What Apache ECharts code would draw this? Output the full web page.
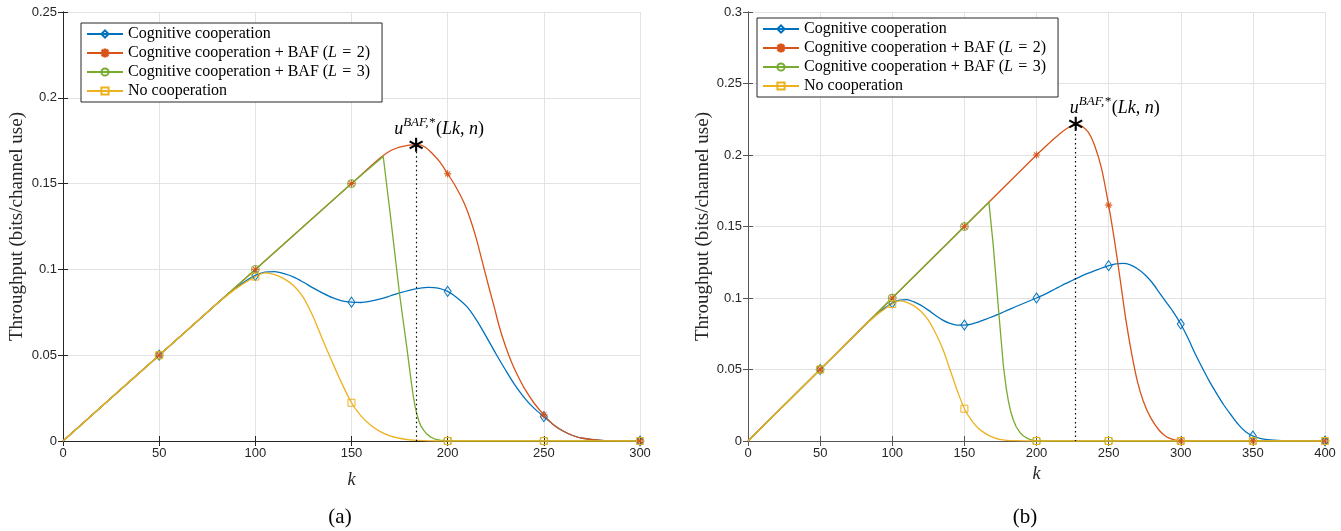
<!DOCTYPE html>
<html>
<head>
<meta charset="utf-8">
<script src="https://cdn.jsdelivr.net/npm/echarts@6/dist/echarts.min.js"></script>
<style>
html,body{margin:0;padding:0;background:#fff;}
#c{width:1341px;height:531px;}
</style>
</head>
<body>
<div id="c"></div>
<script>
// ---------- DATA ----------
const SERIES_NAMES = [
  'Cognitive cooperation',
  'Cognitive cooperation + BAF (L = 2)',
  'Cognitive cooperation + BAF (L = 3)',
  'No cooperation'
];
const X_TICKS_A = [0, 50, 100, 150, 200, 250, 300];
const Y_TICKS_A = [0, 0.05, 0.1, 0.15, 0.2, 0.25];
const X_TICKS_B = [0, 50, 100, 150, 200, 250, 300, 350, 400];
const Y_TICKS_B = [0, 0.05, 0.1, 0.15, 0.2, 0.25, 0.3];

// Panel (a)
const blueA = [[0,0],[50,0.05],[80,0.08],[85,0.0848],[90,0.0893],[95,0.0932],[100,0.0965],[105,0.0984],[110,0.0987],[115,0.0975],[120,0.0955],[125,0.0925],[130,0.0892],[135,0.0862],[140,0.0835],[145,0.0817],[150,0.0809],[155,0.0807],[160,0.0815],[165,0.0828],[170,0.0845],[175,0.0863],[180,0.0878],[185,0.0889],[190,0.0895],[195,0.0891],[200,0.0872],[205,0.0834],[210,0.0783],[215,0.0705],[220,0.061],[225,0.051],[230,0.0415],[235,0.0325],[240,0.025],[245,0.019],[250,0.0142],[255,0.0095],[260,0.0058],[265,0.0032],[270,0.0016],[280,0.0004],[290,0.0001],[300,0]];
const redA = [[0,0],[50,0.05],[100,0.1],[150,0.15],[165,0.165],[170,0.169],[175,0.1712],[180,0.1724],[184,0.1727],[188,0.1715],[192,0.1675],[196,0.1625],[200,0.1557],[203,0.1505],[206,0.1445],[209,0.1375],[212,0.1285],[215,0.1175],[218,0.1045],[221,0.0915],[224,0.079],[227,0.066],[230,0.0555],[233,0.0465],[236,0.039],[240,0.0305],[245,0.022],[250,0.0152],[255,0.0095],[260,0.0058],[265,0.0032],[270,0.0016],[280,0.0004],[290,0.0001],[300,0]];
const greenA = [[0,0],[50,0.05],[100,0.1],[150,0.15],[166.5,0.1658],[170,0.1335],[175,0.0855],[178.7,0.055],[181,0.035],[182,0.027],[183,0.0205],[184,0.0155],[185,0.0118],[186,0.009],[187.5,0.0063],[189,0.0042],[191,0.0024],[193,0.0013],[196,0.0005],[200,0],[250,0],[300,0]];
const yellowA = [[0,0],[50,0.05],[80,0.08],[85,0.0845],[90,0.0888],[95,0.0925],[100,0.0958],[105,0.098],[110,0.097],[115,0.0945],[120,0.0905],[125,0.0835],[130,0.0725],[135,0.059],[140,0.046],[145,0.0335],[150,0.0223],[155,0.0145],[160,0.0092],[165,0.0055],[170,0.003],[175,0.0016],[180,0.0007],[190,0.0001],[200,0],[250,0],[300,0]];
const peakA = [183.6, 0.1726];

// Panel (b)
const blueB = [[0,0],[50,0.05],[80,0.08],[85,0.0848],[90,0.0893],[95,0.0932],[100,0.0965],[105,0.0985],[110,0.0988],[115,0.0973],[120,0.0948],[125,0.0915],[130,0.0878],[135,0.0845],[140,0.0822],[145,0.081],[150,0.0811],[155,0.0818],[160,0.0833],[165,0.0852],[170,0.0872],[175,0.0893],[180,0.0915],[185,0.0937],[190,0.0958],[195,0.0979],[200,0.1],[205,0.1022],[210,0.1048],[215,0.1074],[220,0.11],[225,0.1124],[230,0.1148],[235,0.117],[240,0.119],[245,0.1208],[250,0.1226],[255,0.1238],[260,0.1242],[265,0.1232],[270,0.1205],[275,0.1165],[280,0.111],[285,0.104],[290,0.097],[295,0.09],[300,0.0818],[305,0.072],[310,0.061],[315,0.051],[320,0.0415],[325,0.033],[330,0.025],[335,0.018],[340,0.0115],[345,0.0065],[350,0.0035],[355,0.0018],[360,0.0009],[370,0.0002],[380,0],[400,0]];
const redB = [[0,0],[50,0.05],[100,0.1],[150,0.15],[200,0.2],[210,0.2095],[215,0.2138],[220,0.2178],[225,0.2208],[228,0.2215],[232,0.2198],[236,0.2158],[240,0.2075],[245,0.191],[250,0.165],[254,0.1406],[258,0.113],[262,0.0845],[266,0.061],[270,0.0415],[274,0.028],[279,0.0165],[285,0.0075],[290,0.003],[295,0.001],[300,0],[350,0],[400,0]];
const greenB = [[0,0],[50,0.05],[100,0.1],[150,0.15],[167,0.167],[170,0.137],[173.5,0.094],[177,0.053],[179,0.037],[180.5,0.028],[182,0.021],[184,0.0145],[186,0.0098],[188.5,0.006],[191,0.0035],[194,0.0017],[197,0.0006],[200,0],[250,0],[300,0],[350,0],[400,0]];
const yellowB = [[0,0],[50,0.05],[80,0.08],[85,0.0845],[90,0.0888],[95,0.0925],[100,0.0958],[105,0.098],[110,0.097],[115,0.0945],[120,0.0905],[125,0.0845],[130,0.0755],[135,0.0645],[140,0.05],[145,0.0355],[150,0.0226],[155,0.0145],[160,0.0085],[165,0.005],[170,0.0025],[175,0.001],[185,0.0002],[200,0],[250,0],[300,0],[350,0],[400,0]];
const peakB = [227.2, 0.2218];

// ---------- STYLE ----------
const C_BLUE = '#0072BD', C_RED = '#D95319', C_GREEN = '#77AC30', C_YEL = '#EDB120';
const SERIF = '"Liberation Serif", "DejaVu Serif", serif';
const SANS = '"Liberation Sans", Arial, sans-serif';

const ASTER8 = 'path://M9,0h2v20h-2z M0,9h20v2h-20z M2.4,3.8 L3.8,2.4 L17.6,16.2 L16.2,17.6z M16.2,2.4 L17.6,3.8 L3.8,17.6 L2.4,16.2z';
const ASTER6 = 'path://M8.6,0h2.8v20h-2.8z M0.64,6.2 L2.04,3.8 L19.36,13.8 L17.96,16.2z M0.64,13.8 L17.96,3.8 L19.36,6.2 L2.04,16.2z';

const MARK = {
  [SERIES_NAMES[0]]: {color: C_BLUE, symbol: 'diamond', size: [7, 10], smooth: 0.3},
  [SERIES_NAMES[1]]: {color: C_RED, symbol: ASTER8, size: 7, smooth: 0.3},
  [SERIES_NAMES[2]]: {color: C_GREEN, symbol: 'circle', size: 8, smooth: false},
  [SERIES_NAMES[3]]: {color: C_YEL, symbol: 'rect', size: 7, smooth: 0.3}
};

function buildData(pairs) {
  return pairs.map(p => {
    const isMark = p[0] > 0 && p[0] % 50 === 0;
    return isMark ? {value: p} : {value: p, symbol: 'none'};
  });
}

function mkSeries(name, pairs, axisIdx, extra) {
  const m = MARK[name];
  const filled = name === SERIES_NAMES[1];
  const s = {
    name: name,
    type: 'line',
    xAxisIndex: axisIdx,
    yAxisIndex: axisIdx,
    data: buildData(pairs),
    smooth: m.smooth,
    symbol: m.symbol,
    symbolSize: m.size,
    showAllSymbol: true,
    lineStyle: {color: m.color, width: 1.3},
    itemStyle: {color: filled ? m.color : 'rgba(255,255,255,0)', borderColor: m.color, borderWidth: filled ? 0.3 : 1},
    emphasis: {disabled: true},
    animation: false,
    z: 3
  };
  return Object.assign(s, extra || {});
}

function annot(peak, offX) {
  return {
    markPoint: {
      symbol: ASTER6,
      symbolSize: 14,
      itemStyle: {color: '#000'},
      data: [{coord: peak}],
      label: {
        show: true,
        position: 'top',
        distance: 0,
        offset: [offX, 0],
        formatter: '{u|u}{s|BAF,*}{n|(}{i|Lk}{n|, }{i|n}{n|)}',
        rich: {
          u: {fontFamily: SERIF, fontSize: 18, fontStyle: 'italic', color: '#000', verticalAlign: 'bottom'},
          s: {fontFamily: SERIF, fontSize: 13, fontStyle: 'italic', color: '#000', verticalAlign: 'bottom', padding: [0, 1, 9, 0]},
          n: {fontFamily: SERIF, fontSize: 18, color: '#000', verticalAlign: 'bottom'},
          i: {fontFamily: SERIF, fontSize: 18, fontStyle: 'italic', color: '#000', verticalAlign: 'bottom'}
        }
      },
      animation: false
    },
    markLine: {
      symbol: ['none', 'none'],
      silent: true,
      label: {show: false},
      lineStyle: {color: '#000', type: [1.5, 3], width: 1.2},
      data: [[{coord: [peak[0], peak[1] - 0.004]}, {coord: [peak[0], 0]}]],
      animation: false
    }
  };
}

function axesFor(gridIdx, xt, yt, axisColor) {
  const xmin = xt[0], xmax = xt[xt.length - 1], xint = xt[1] - xt[0];
  const ymin = yt[0], ymax = yt[yt.length - 1], yint = yt[1] - yt[0];
  const line = {show: true, lineStyle: {color: axisColor, width: 1}};
  const tick = {show: true, inside: true, length: 5, lineStyle: {color: axisColor}};
  const xs = [
    {type: 'value', gridIndex: gridIdx, position: 'bottom', min: xmin, max: xmax, interval: xint,
     axisLine: line, axisTick: tick,
     axisLabel: {color: '#262626', fontFamily: SANS, fontSize: 13, margin: 6},
     splitLine: {show: true, lineStyle: {color: '#e3e3e3', width: 1}},
     name: 'k', nameLocation: 'middle', nameGap: gridIdx === 0 ? 30 : 23,
     nameTextStyle: {fontFamily: SERIF, fontStyle: 'italic', fontSize: 18, color: '#262626'}},
    {type: 'value', gridIndex: gridIdx, position: 'top', min: xmin, max: xmax, interval: xint,
     axisLine: line, axisTick: tick, axisLabel: {show: false}, splitLine: {show: false}}
  ];
  const ys = [
    {type: 'value', gridIndex: gridIdx, position: 'left', min: ymin, max: ymax, interval: yint,
     axisLine: line, axisTick: tick,
     axisLabel: {color: '#262626', fontFamily: SANS, fontSize: 13, margin: 6},
     splitLine: {show: true, lineStyle: {color: '#e3e3e3', width: 1}},
     name: 'Throughput (bits/channel use)', nameLocation: 'middle', nameGap: gridIdx === 0 ? 36 : 34,
     nameTextStyle: {fontFamily: SERIF, fontSize: 19, color: '#262626'}},
    {type: 'value', gridIndex: gridIdx, position: 'right', min: ymin, max: ymax, interval: yint,
     axisLine: line, axisTick: tick, axisLabel: {show: false}, splitLine: {show: false}}
  ];
  return {xs, ys};
}

const axA = axesFor(0, X_TICKS_A, Y_TICKS_A, '#262626');
const axB = axesFor(1, X_TICKS_B, Y_TICKS_B, '#555555');

// xAxis indices: 0 bottomA, 1 topA, 2 bottomB, 3 topB
const xAxes = [axA.xs[0], axA.xs[1], axB.xs[0], axB.xs[1]];
const yAxes = [axA.ys[0], axA.ys[1], axB.ys[0], axB.ys[1]];

function legendFmt(name) {
  const m = name.match(/^(.*)\(L = (\d)\)$/);
  if (m) return '{n|' + m[1] + '(}{i|L}{n|\u2004=\u2004' + m[2] + ')}';
  return '{n|' + name + '}';
}
function mkLegend(left, top) {
  return {
    data: SERIES_NAMES,
    orient: 'vertical',
    left: left, top: top,
    itemWidth: 36, itemHeight: 9, itemGap: 3,
    padding: [3, 12, 3, 5],
    backgroundColor: '#fff',
    borderColor: '#262626', borderWidth: 1,
    selectedMode: false,
    formatter: legendFmt,
    textStyle: {
      rich: {
        n: {fontFamily: SERIF, fontSize: 16, color: '#000', lineHeight: 16},
        i: {fontFamily: SERIF, fontSize: 16, fontStyle: 'italic', color: '#000', lineHeight: 16}
      }
    }
  };
}

const series = [
  mkSeries(SERIES_NAMES[0], blueA, 0),
  mkSeries(SERIES_NAMES[1], redA, 0, annot(peakA, 23)),
  mkSeries(SERIES_NAMES[2], greenA, 0),
  mkSeries(SERIES_NAMES[3], yellowA, 0),
  mkSeries(SERIES_NAMES[0], blueB, 2),
  mkSeries(SERIES_NAMES[1], redB, 2, annot(peakB, 39)),
  mkSeries(SERIES_NAMES[2], greenB, 2),
  mkSeries(SERIES_NAMES[3], yellowB, 2)
];

const chart = echarts.init(document.getElementById('c'), null, {renderer: 'canvas'});
chart.setOption({
  animation: false,
  backgroundColor: '#fff',
  grid: [
    {left: 63, right: 701, top: 12, bottom: 90},
    {left: 748, right: 16, top: 12, bottom: 90}
  ],
  xAxis: xAxes,
  yAxis: yAxes,
  legend: [mkLegend(81, 23), mkLegend(757, 18)],
  graphic: [
    {type: 'text', x: 340, y: 517, style: {text: '(a)', font: '21px ' + SERIF, fill: '#000', textAlign: 'center', textVerticalAlign: 'middle'}},
    {type: 'text', x: 1025, y: 517, style: {text: '(b)', font: '21px ' + SERIF, fill: '#000', textAlign: 'center', textVerticalAlign: 'middle'}}
  ],
  series: series
});
</script>
</body>
</html>
